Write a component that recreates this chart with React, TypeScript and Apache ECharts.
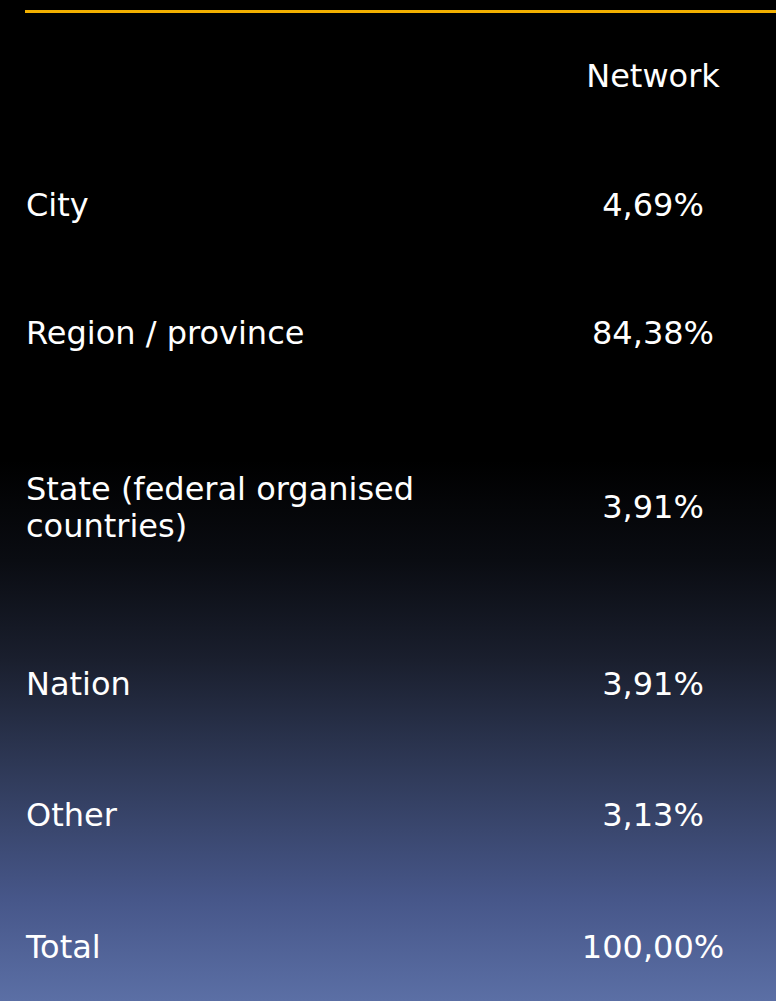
import React, { useEffect, useRef } from "react";
import * as echarts from "echarts";

const columnHeader = "Network";
const categories = [
  "City",
  "Region / province",
  "State (federal organised\ncountries)",
  "Nation",
  "Other",
  "Total",
];
const values = [4.69, 84.38, 3.91, 3.91, 3.13, 100.0];

// layout (pixel centres of each row, header first)
const headerY = 76;
const rowY = [205, 333, 507, 684, 815, 947];
const labelX = 26;
const valueX = 653;

const fmt = (v: number) => v.toFixed(2).replace(".", ",") + "%";

export default function App() {
  const ref = useRef<HTMLDivElement>(null);
  useEffect(() => {
    if (!ref.current) return;
    const chart = echarts.init(ref.current, null, { renderer: "svg" });
    const font = "DejaVu Sans, Verdana, sans-serif";
    const textStyle = (align: string) => ({
      fill: "#ffffff",
      fontSize: 32,
      fontFamily: font,
      align,
      verticalAlign: "middle",
      lineHeight: 37,
    });
    const elements: any[] = [
      {
        type: "rect",
        z: -10,
        shape: { x: 0, y: 0, width: 776, height: 1001 },
        style: {
          fill: new echarts.graphic.LinearGradient(0, 0, 0, 1, [
            { offset: 0, color: "#000000" },
            { offset: 0.46, color: "#000000" },
            { offset: 0.56, color: "#0a0c12" },
            { offset: 0.66, color: "#1a1f2e" },
            { offset: 0.78, color: "#313c5c" },
            { offset: 0.9, color: "#47578a" },
            { offset: 1, color: "#5b6fa5" },
          ]),
        },
      },
      {
        type: "rect",
        shape: { x: 25, y: 10, width: 751, height: 3 },
        style: { fill: "#f2b000" },
      },
      {
        type: "text",
        x: valueX,
        y: headerY,
        style: { ...textStyle("center"), text: columnHeader },
      },
    ];
    categories.forEach((c, i) => {
      elements.push({
        type: "text",
        x: labelX,
        y: rowY[i],
        style: { ...textStyle("left"), text: c },
      });
      elements.push({
        type: "text",
        x: valueX,
        y: rowY[i],
        style: { ...textStyle("center"), text: fmt(values[i]) },
      });
    });
    chart.setOption({
      animation: false,
      backgroundColor: "#000000",
      graphic: { elements },
    });
    return () => chart.dispose();
  }, []);
  return (
    <div
      ref={ref}
      style={{ position: "fixed", left: 0, top: 0, width: 776, height: 1001 }}
    />
  );
}
